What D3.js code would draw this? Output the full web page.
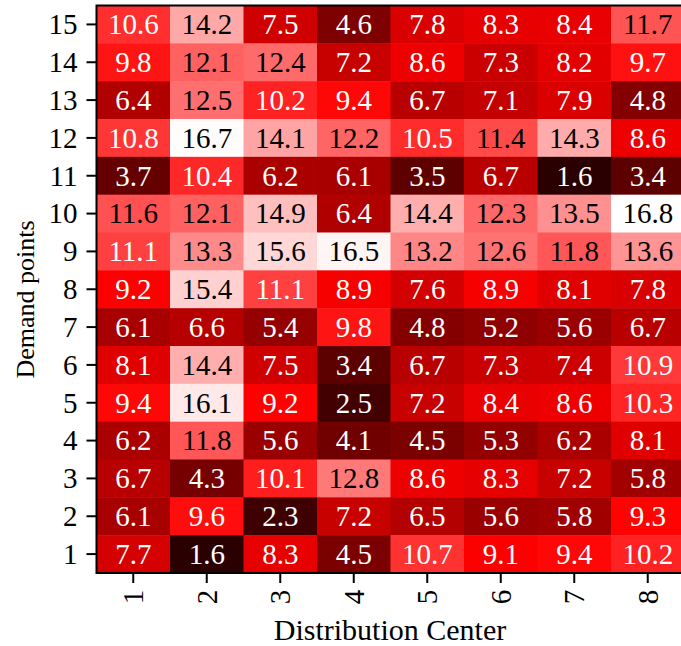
<!DOCTYPE html>
<html>
<head>
<meta charset="utf-8">
<script src="https://cdn.jsdelivr.net/npm/d3@7"></script>
<style>
  html, body { margin: 0; padding: 0; background: #fff; }
  svg { display: block; }
  text { font-family: "Liberation Serif", "Times New Roman", serif; }
</style>
</head>
<body>
<svg id="chart" width="681" height="646"></svg>
<script>
// Distribution centers (columns) and demand points (rows, top to bottom)
const centers = [1, 2, 3, 4, 5, 6, 7, 8];
const demandPoints = [15, 14, 13, 12, 11, 10, 9, 8, 7, 6, 5, 4, 3, 2, 1];

// One row of values per demand point, in the same order as demandPoints
const row15 = [10.6, 14.2, 7.5, 4.6, 7.8, 8.3, 8.4, 11.7];
const row14 = [9.8, 12.1, 12.4, 7.2, 8.6, 7.3, 8.2, 9.7];
const row13 = [6.4, 12.5, 10.2, 9.4, 6.7, 7.1, 7.9, 4.8];
const row12 = [10.8, 16.7, 14.1, 12.2, 10.5, 11.4, 14.3, 8.6];
const row11 = [3.7, 10.4, 6.2, 6.1, 3.5, 6.7, 1.6, 3.4];
const row10 = [11.6, 12.1, 14.9, 6.4, 14.4, 12.3, 13.5, 16.8];
const row9  = [11.1, 13.3, 15.6, 16.5, 13.2, 12.6, 11.8, 13.6];
const row8  = [9.2, 15.4, 11.1, 8.9, 7.6, 8.9, 8.1, 7.8];
const row7  = [6.1, 6.6, 5.4, 9.8, 4.8, 5.2, 5.6, 6.7];
const row6  = [8.1, 14.4, 7.5, 3.4, 6.7, 7.3, 7.4, 10.9];
const row5  = [9.4, 16.1, 9.2, 2.5, 7.2, 8.4, 8.6, 10.3];
const row4  = [6.2, 11.8, 5.6, 4.1, 4.5, 5.3, 6.2, 8.1];
const row3  = [6.7, 4.3, 10.1, 12.8, 8.6, 8.3, 7.2, 5.8];
const row2  = [6.1, 9.6, 2.3, 7.2, 6.5, 5.6, 5.8, 9.3];
const row1  = [7.7, 1.6, 8.3, 4.5, 10.7, 9.1, 9.4, 10.2];

const rows = [row15, row14, row13, row12, row11, row10, row9, row8,
              row7, row6, row5, row4, row3, row2, row1];

const cells = [];
rows.forEach((vals, i) => {
  vals.forEach((v, j) => {
    cells.push({ row: demandPoints[i], col: centers[j], value: v });
  });
});

const svg = d3.select("#chart");

// Plot frame
const plotLeft = 96.5, plotRight = 684.5, plotTop = 5.5, plotBottom = 573;
const fontSize = 29;
const half = fontSize * 0.34; // half the digit height, for vertical centring

const x = d3.scaleBand().domain(centers).range([plotLeft, plotRight]);
const y = d3.scaleBand().domain(demandPoints).range([plotTop, plotBottom]);

const vmin = d3.min(cells, d => d.value);
const vmax = d3.max(cells, d => d.value);
const color = d3.scaleLinear()
  .domain([vmin, (vmin + vmax) / 2, vmax])
  .range(["#2a0000", "#ff0000", "#ffffff"])
  .interpolate(d3.interpolateRgb);

// Heatmap cells
svg.append("g")
  .selectAll("rect")
  .data(cells)
  .join("rect")
  .attr("x", d => x(d.col))
  .attr("y", d => y(d.row))
  .attr("width", x.bandwidth() + 0.5)
  .attr("height", y.bandwidth() + 0.5)
  .attr("fill", d => color(d.value));

// Cell annotations
svg.append("g")
  .selectAll("text")
  .data(cells)
  .join("text")
  .attr("x", d => x(d.col) + x.bandwidth() / 2)
  .attr("y", d => y(d.row) + y.bandwidth() / 2 + half)
  .attr("text-anchor", "middle")
  .attr("font-size", fontSize)
  .attr("fill", d => d.value > 11.2 ? "#000" : "#fff")
  .text(d => d.value.toFixed(1));

// Frame
svg.append("rect")
  .attr("x", plotLeft).attr("y", plotTop)
  .attr("width", plotRight - plotLeft).attr("height", plotBottom - plotTop)
  .attr("fill", "none")
  .attr("stroke", "#000")
  .attr("stroke-width", 2);

// Y axis
const yAxis = svg.append("g")
  .attr("transform", `translate(${plotLeft},0)`)
  .call(d3.axisLeft(y).tickSize(10).tickPadding(9));
yAxis.select(".domain").remove();
yAxis.selectAll(".tick line").attr("stroke", "#000").attr("stroke-width", 2);
yAxis.selectAll(".tick text")
  .attr("font-size", fontSize)
  .attr("fill", "#000")
  .attr("dy", null)
  .attr("y", half);

// X axis
const xAxis = svg.append("g")
  .attr("transform", `translate(0,${plotBottom})`)
  .call(d3.axisBottom(x).tickSize(10).tickPadding(8));
xAxis.select(".domain").remove();
xAxis.selectAll(".tick line").attr("stroke", "#000").attr("stroke-width", 2);
xAxis.selectAll(".tick text")
  .attr("font-size", fontSize)
  .attr("fill", "#000")
  .attr("x", 0).attr("y", 0).attr("dy", null)
  .attr("text-anchor", "middle")
  .attr("transform", `translate(${half},24) rotate(-90)`);

// Axis titles
svg.append("text")
  .attr("x", 390)
  .attr("y", 640)
  .attr("text-anchor", "middle")
  .attr("font-size", 30)
  .attr("fill", "#000")
  .text("Distribution Center");

svg.append("text")
  .attr("transform", "translate(34,299.5) rotate(-90)")
  .attr("text-anchor", "middle")
  .attr("font-size", 26)
  .attr("fill", "#000")
  .text("Demand points");
</script>
</body>
</html>
